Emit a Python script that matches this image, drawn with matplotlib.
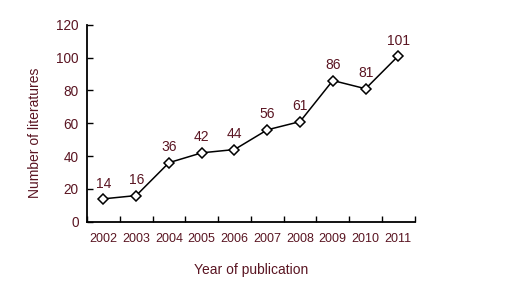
import matplotlib

matplotlib.use("Agg")

from matplotlib import pyplot as plt  # noqa: E402

years = ["2002", "2003", "2004", "2005", "2006", "2007", "2008", "2009", "2010", "2011"]
counts = [14, 16, 36, 42, 44, 56, 61, 86, 81, 101]

TEXT_COLOR = "#5a1522"

plt.rcParams["font.family"] = ["Liberation Sans", "DejaVu Sans"]

fig = plt.figure(figsize=(5.12, 2.9), dpi=100)
ax = fig.add_axes([0.170, 0.235, 0.640, 0.680])

positions = list(range(len(years)))
ax.plot(positions, counts, color="black", linewidth=1.1, marker="D", markersize=5,
        markerfacecolor="white", markeredgecolor="black", markeredgewidth=1.1, zorder=3)
for x, value in zip(positions, counts):
    ax.annotate(str(value), (x, value), xytext=(0, 6), textcoords="offset points",
                ha="center", va="bottom", fontsize=10, color=TEXT_COLOR)

ax.set_xlim(-0.5, len(years) - 0.5)
ax.set_ylim(0, 120)
ax.set_yticks(range(0, 121, 20))

# category boundaries carry the ticks, labels sit in between
ax.set_xticks([p - 0.5 for p in positions] + [len(years) - 0.5])
ax.set_xticklabels([])
ax.set_xticks(positions, minor=True)
ax.set_xticklabels(years, minor=True)
ax.tick_params(axis="x", which="major", direction="in", length=4, width=1)
ax.tick_params(axis="x", which="minor", length=0, pad=8, labelsize=9, labelcolor=TEXT_COLOR)
ax.tick_params(axis="y", direction="in", length=4, width=1, pad=6, labelsize=9.8,
               labelcolor=TEXT_COLOR)

for side in ("top", "right"):
    ax.spines[side].set_visible(False)
for side in ("left", "bottom"):
    ax.spines[side].set_linewidth(1.3)

ax.set_xlabel("Year of publication", fontsize=10, color=TEXT_COLOR, labelpad=13)
ax.set_ylabel("Number of literatures", fontsize=10, color=TEXT_COLOR)
ax.yaxis.set_label_coords(-0.137, 0.45)

fig.savefig("out.png", dpi=100)
